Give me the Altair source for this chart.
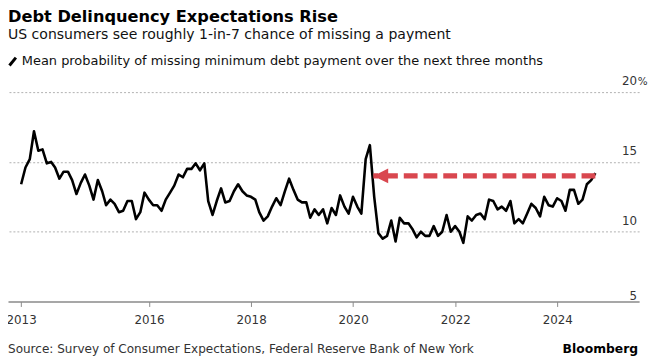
import altair as alt
import pandas as pd

# Monthly values (month-end), June 2013 - September 2024
values = [
    13.4, 14.6, 15.2, 17.2, 15.8, 15.9, 14.9, 15.0, 14.6, 13.8,
    14.3, 14.3, 13.7, 12.7, 13.5, 14.1, 13.3, 12.3, 13.7, 12.9,
    11.9, 12.3, 12.0, 11.4, 11.5, 12.2, 12.2, 10.9, 11.4, 12.8,
    12.3, 11.9, 11.9, 11.5, 12.3, 12.8, 13.3, 14.1, 13.9, 14.5,
    14.5, 14.9, 14.4, 14.9, 12.2, 11.2, 12.2, 13.1, 12.1, 12.2,
    12.9, 13.4, 12.9, 12.6, 12.5, 12.3, 11.4, 10.8, 11.1, 11.8,
    12.4, 11.9, 12.9, 13.8, 13.0, 12.3, 12.1, 12.1, 11.0, 11.6,
    11.2, 11.6, 10.6, 11.7, 11.2, 12.6, 11.8, 11.3, 12.5, 11.8,
    11.3, 15.2, 16.2, 12.5, 9.9, 9.5, 9.7, 10.8, 9.3, 11.0,
    10.6, 10.6, 10.2, 9.6, 10.0, 9.7, 9.7, 10.4, 9.7, 10.0,
    11.2, 10.0, 10.4, 10.0, 9.2, 11.1, 10.8, 11.2, 11.3, 10.9,
    12.3, 12.2, 11.6, 11.8, 11.5, 12.2, 10.6, 10.9, 10.6, 11.3,
    12.0, 11.7, 11.1, 12.5, 11.9, 11.8, 12.4, 12.2, 11.5, 13.0,
    13.0, 12.0, 12.3, 13.4, 13.7, 14.2,
]
dates = (pd.date_range("2013-07-01", periods=len(values), freq="MS")
         - pd.Timedelta(days=1)).strftime("%Y-%m-%d").tolist()

x_ticks = [(2013, 6, 30), (2016, 1, 1), (2018, 1, 1), (2020, 1, 1), (2022, 1, 1), (2024, 1, 1)]
x_domain = [(2013, 3, 28), (2025, 8, 9)]
y_grid = [10, 15, 20]
y_labels_upper = [20, 15, 10]
y_labels_upper_text = ["20", "15", "10"]
y_labels_lower = [5]
y_labels_lower_text = ["5"]

arrow_tip = ["2020-05-25"]
arrow_end = ["2024-09-30"]
arrow_level = [14.0]

title = "Debt Delinquency Expectations Rise"
subtitle = "US consumers see roughly 1-in-7 chance of missing a payment"
legend_label = "Mean probability of missing minimum debt payment over the next three months"
source = "Source: Survey of Consumer Expectations, Federal Reserve Bank of New York"
brand = "Bloomberg"

FONT = "DejaVu Sans"
RED = "#d9474f"

def dt(t):
    return alt.DateTime(year=t[0], month=t[1], date=t[2], utc=True)

x_scale = alt.Scale(type="utc", domain=[dt(d) for d in x_domain])
y_scale = alt.Scale(domain=[5, 20], nice=False, zero=False)

x_axis = alt.Axis(
    values=[dt(t) for t in x_ticks], format="%Y", title=None, grid=False,
    tickSize=5, tickColor="#8a8a8a", tickWidth=1, domainColor="#8a8a8a", domainWidth=1.5,
    labelFont=FONT, labelFontSize=12, labelColor="#333333", labelPadding=8,
    labelFlush=False, labelOverlap=False)
y_axis = alt.Axis(
    orient="right", values=y_grid, grid=True, gridDash=[2, 2], gridColor="#b0b0b0",
    gridWidth=1, labels=False, ticks=False, domain=False, title=None)

df = pd.DataFrame({"date": dates, "value": values})

line = alt.Chart(df).mark_line(color="#000000", strokeWidth=2.6, strokeJoin="round").encode(
    x=alt.X("date:T", scale=x_scale, axis=x_axis),
    y=alt.Y("value:Q", scale=y_scale, axis=y_axis),
)

arrow_df = pd.DataFrame({"tip": arrow_tip, "end": arrow_end, "level": arrow_level})
arrow_rule = alt.Chart(arrow_df).mark_rule(color=RED, strokeWidth=5.5, strokeDash=[14, 6], strokeCap="butt").encode(
    x=alt.X("end:T", scale=x_scale, axis=x_axis),
    x2="tip:T",
    y=alt.Y("level:Q", scale=y_scale, axis=y_axis),
)
arrow_head = alt.Chart(arrow_df).mark_point(shape="M0,0L2,-1L2,1Z", size=225, filled=True,
                                            color=RED, opacity=1, strokeWidth=0).encode(
    x=alt.X("tip:T", scale=x_scale, axis=x_axis),
    y=alt.Y("level:Q", scale=y_scale, axis=y_axis),
)

LABEL_X = 637
up_df = pd.DataFrame({"value": y_labels_upper, "label": y_labels_upper_text})
low_df = pd.DataFrame({"value": y_labels_lower, "label": y_labels_lower_text})
ylab_up = alt.Chart(up_df).mark_text(align="right", baseline="alphabetic", dy=-7, font=FONT,
                                     fontSize=12, color="#333333").encode(
    x=alt.value(LABEL_X), y=alt.Y("value:Q", scale=y_scale, axis=y_axis), text="label:N")
ylab_low = alt.Chart(low_df).mark_text(align="right", baseline="alphabetic", dy=-2, font=FONT,
                                       fontSize=12, color="#333333").encode(
    x=alt.value(LABEL_X), y=alt.Y("value:Q", scale=y_scale, axis=y_axis), text="label:N")
pct = alt.Chart(pd.DataFrame({"value": [y_labels_upper[0]]})).mark_text(
    align="left", baseline="alphabetic", dy=-7, font=FONT, fontSize=10.5, color="#333333", text="%").encode(
    x=alt.value(LABEL_X + 0.5), y=alt.Y("value:Q", scale=y_scale, axis=y_axis))

one = pd.DataFrame({"k": [0]})

def label(text, x, y, size, weight="normal", align="left", color="#000000"):
    return alt.Chart(one).mark_text(text=text, align=align, baseline="alphabetic", font=FONT,
                                    fontSize=size, fontWeight=weight, color=color).encode(
        x=alt.value(x), y=alt.value(y))

t_title = label(title, 0, -71.3, 16.4, "bold")
t_sub = label(subtitle, 0, -53.7, 14.2, color="#111111")
t_leg = label(legend_label, 14, -27, 13.1, color="#111111")
t_src = label(source, 0, 264, 12.2, color="#333333")
t_brand = label(brand, 638, 264, 12.5, "bold", align="right")

legend_icon = alt.Chart(one).mark_rule(color="#000000", strokeWidth=3, strokeCap="butt").encode(
    x=alt.value(1.5), x2=alt.value(8), y=alt.value(-27), y2=alt.value(-35))

chart = alt.layer(
    line, arrow_rule, arrow_head, ylab_up, ylab_low, pct,
    t_title, t_sub, legend_icon, t_leg, t_src, t_brand,
).properties(
    width=639, height=212, autosize="none",
    padding={"left": 0, "top": 83, "right": 9, "bottom": 54},
).configure(background="white").configure_view(stroke=None)

chart.save("out.html", embed_options={"renderer": "svg", "actions": False})
